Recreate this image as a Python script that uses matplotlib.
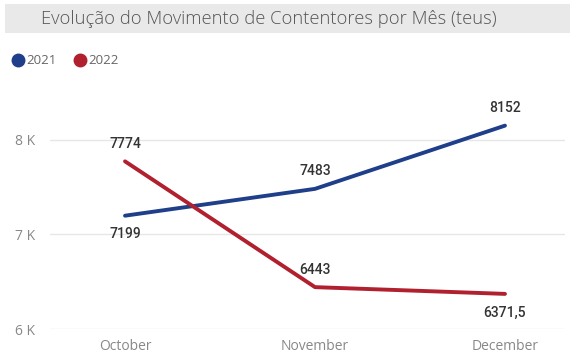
import matplotlib
matplotlib.use("Agg")
from matplotlib import pyplot as plt
from matplotlib.patches import Rectangle
from matplotlib.lines import Line2D

# Container movement per month (TEU)
months = ["October", "November", "December"]
teus_2021 = [7199, 7483, 8152]
teus_2022 = [7774, 6443, 6371.5]
series_names = ["2021", "2022"]
series_colors = ["#1f3f8a", "#b0202e"]
# label placement per point: above (+1) or below (-1) the line
label_side_2021 = [-1, 1, 1]
label_side_2022 = [1, 1, -1]
y_ticks = [6000, 7000, 8000]
y_tick_labels = ["6 K", "7 K", "8 K"]


def fmt_value(v):
    if float(v).is_integer():
        return str(int(v))
    return f"{v}".replace(".", ",")


W, H = 573, 355
fig = plt.figure(figsize=(W / 100, H / 100), dpi=100)
fig.patch.set_facecolor("white")

# title bar
fig.patches.append(Rectangle((5 / W, 1 - 33 / H), 565 / W, 29 / H,
                             transform=fig.transFigure, facecolor="#e9e9e9",
                             edgecolor="none", zorder=0))
fig.text(269 / W, 1 - 19 / H, "Evolução do Movimento de Contentores por Mês (teus)",
         ha="center", va="center", fontsize=13.2, color="#555555",
         family="Open Sans", fontweight="light")

# legend
legend_x = 12 / W
for name, color in zip(series_names, series_colors):
    fig.add_artist(Line2D([legend_x + 6 / W], [1 - 60 / H], marker="o",
                          markersize=9, color=color, linestyle="none",
                          transform=fig.transFigure))
    fig.text(legend_x + 14 / W, 1 - 60 / H, name, ha="left", va="center",
             fontsize=9.5, color="#666666", family="Open Sans")
    legend_x += 62 / W

ax = fig.add_axes([50 / W, (H - 329) / H, 515 / W, (329 - 85) / H])
x = list(range(len(months)))

for vals, sides, color in [(teus_2021, label_side_2021, series_colors[0]),
                           (teus_2022, label_side_2022, series_colors[1])]:
    ax.plot(x, vals, color=color, linewidth=2.8, solid_capstyle="round",
            solid_joinstyle="round", zorder=3)
    for xi, v, s in zip(x, vals, sides):
        offset = 12.5 if s > 0 else 13.5
        ax.annotate(fmt_value(v), (xi, v), xytext=(0, offset * s),
                    textcoords="offset points", ha="center", va="center",
                    fontsize=10, fontweight="medium", color="#333333",
                    family="Roboto", zorder=4)

ax.set_xlim(-0.395, 2.316)
ax.set_ylim(6000, 8582)
ax.set_yticks(y_ticks)
ax.set_yticklabels(y_tick_labels)
ax.set_xticks(x)
ax.set_xticklabels(months)
ax.grid(axis="y", color="#e6e6e6", linewidth=1)
ax.set_axisbelow(True)
for spine in ax.spines.values():
    spine.set_visible(False)
ax.tick_params(axis="both", length=0, colors="#888888", labelsize=10)
ax.tick_params(axis="y", pad=11)
ax.tick_params(axis="x", pad=7)
for lbl in ax.get_xticklabels() + ax.get_yticklabels():
    lbl.set_family("Open Sans")

fig.savefig("out.png", dpi=100)
